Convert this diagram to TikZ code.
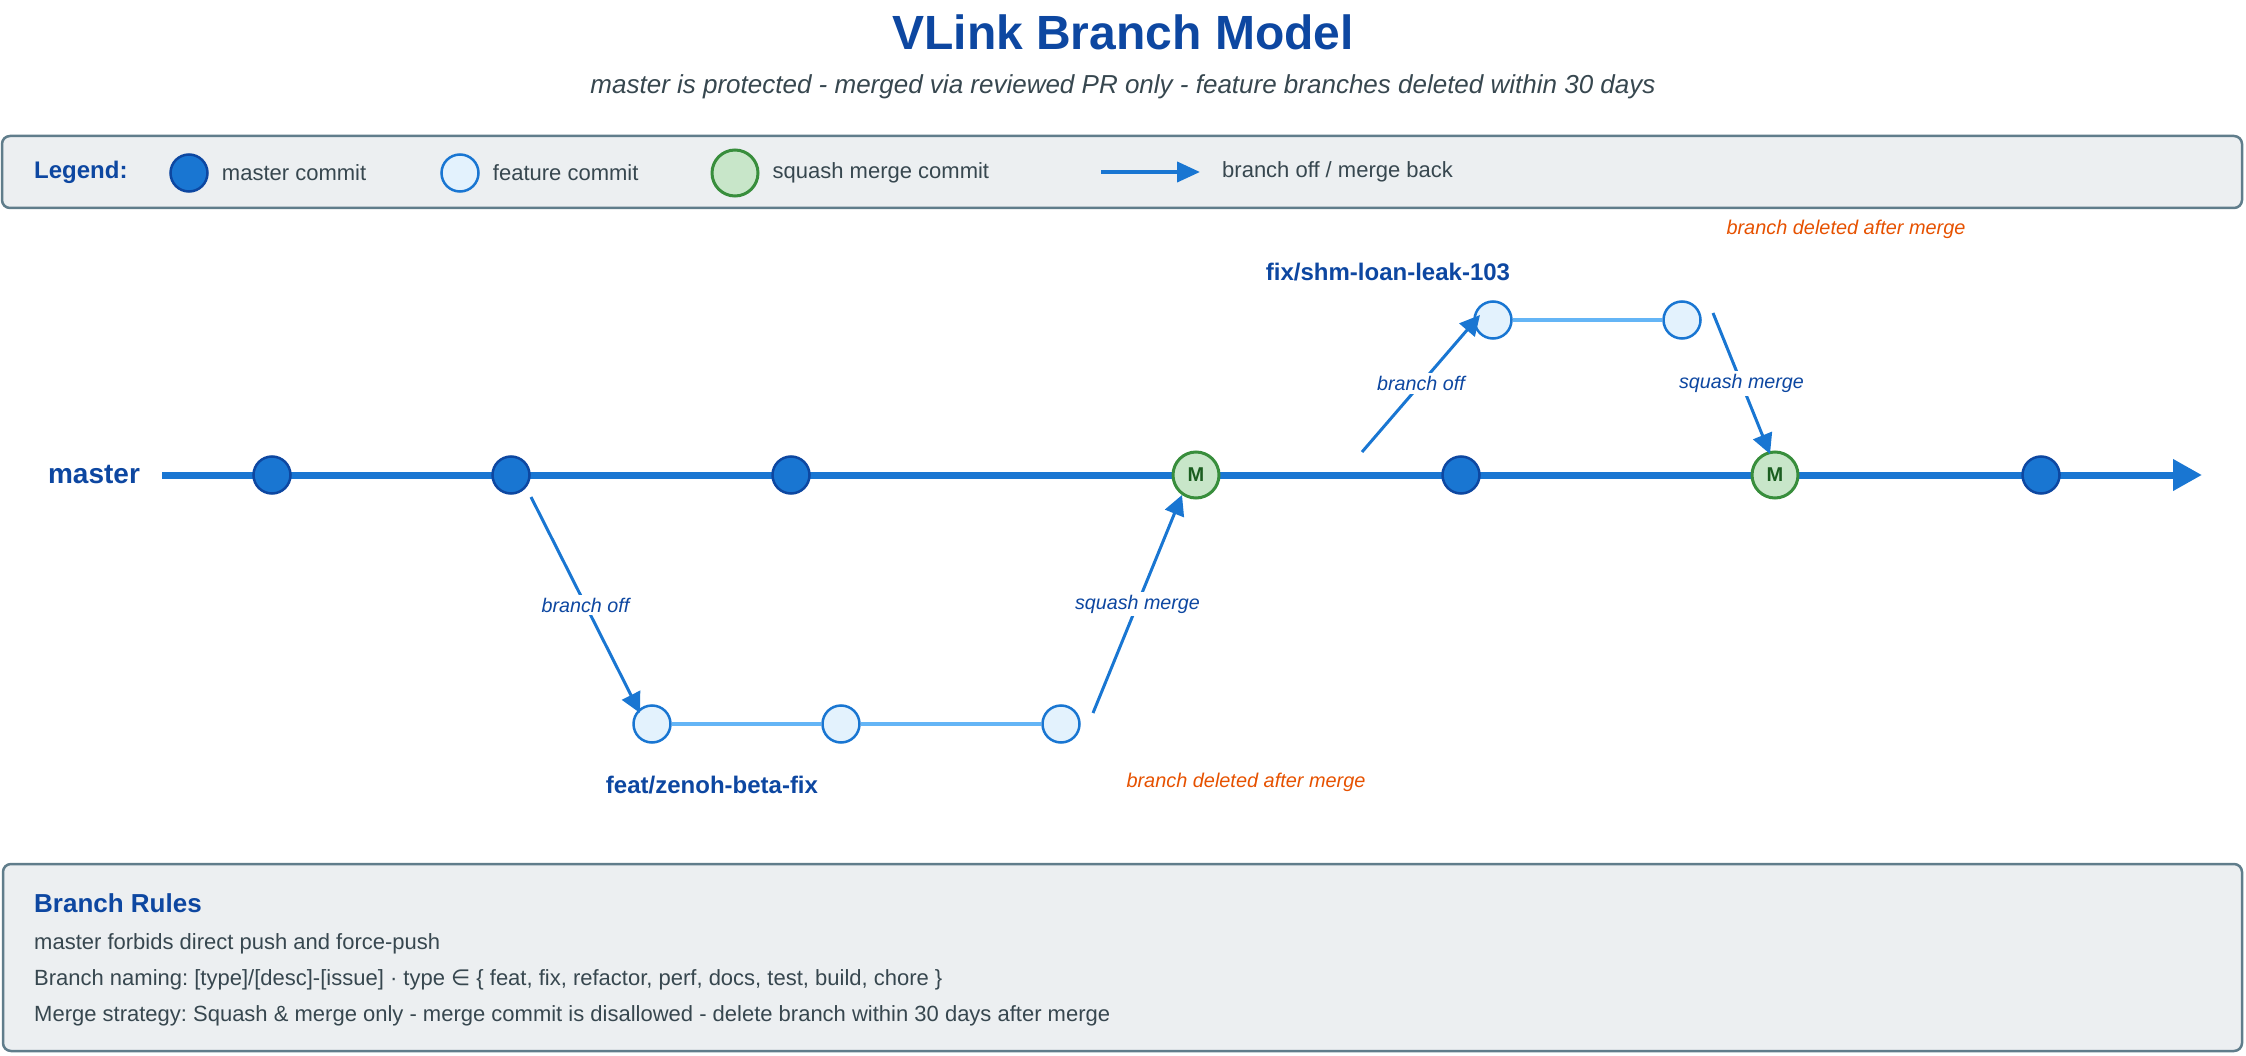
\documentclass[tikz,border=0pt]{standalone}
\usepackage{fontspec}
\setmainfont{Liberation Sans}
\newfontfamily\dejavu{DejaVu Sans}
\usepackage{tikz}
\usetikzlibrary{arrows.meta,positioning}
\frenchspacing

\definecolor{deepblue}{HTML}{0D47A1}
\definecolor{mainblue}{HTML}{1976D2}
\definecolor{paleblue}{HTML}{E3F2FD}
\definecolor{lineblue}{HTML}{64B5F6}
\definecolor{mergefill}{HTML}{C8E6C9}
\definecolor{mergedraw}{HTML}{388E3C}
\definecolor{mergetext}{HTML}{1B5E20}
\definecolor{warnorange}{HTML}{E65100}
\definecolor{panelfill}{HTML}{ECEFF1}
\definecolor{paneldraw}{HTML}{607D8B}
\definecolor{bodygray}{HTML}{37474F}

\begin{document}
\begin{tikzpicture}[
    x=1pt, y=-1pt,
    node distance=13pt,
    mcommit/.style={circle, draw=deepblue, fill=mainblue, line width=2.5pt,
                    minimum size=37pt, inner sep=0pt},
    fcommit/.style={circle, draw=mainblue, fill=paleblue, line width=2.5pt,
                    minimum size=37pt, inner sep=0pt},
    scommit/.style={circle, draw=mergedraw, fill=mergefill, line width=3pt,
                    minimum size=46pt, inner sep=0pt, text=mergetext,
                    font=\fontsize{20}{24}\selectfont\bfseries},
    panel/.style={rectangle, rounded corners=8pt, draw=paneldraw, fill=panelfill,
                  line width=2.5pt},
    legtext/.style={inner sep=0pt, text=bodygray, font=\fontsize{22}{26}\selectfont},
    ruletext/.style={inner sep=0pt, anchor=base west, text=bodygray,
                     font=\fontsize{22}{26}\selectfont},
    heading/.style={inner sep=0pt, text=deepblue, font=\fontsize{24}{28}\selectfont\bfseries},
    edgelabel/.style={fill=white, inner sep=3pt, text=deepblue,
                      font=\fontsize{19.7}{23}\selectfont\itshape},
    deleted/.style={inner sep=0pt, text=warnorange, font=\fontsize{19.9}{23}\selectfont\itshape},
    trunk/.style={line width=7pt, mainblue, -{Triangle[length=29pt,width=30pt]}},
    twig/.style={line width=4pt, lineblue},
    arrow/.style={line width=3pt, mainblue, -{Triangle[length=20pt,width=20pt]}},
  ]
    \useasboundingbox (0,0) rectangle (2246,1056);

    % title
    \node[text=deepblue, font=\fontsize{48}{56}\selectfont\bfseries] (title) at (1123,32) {VLink Branch Model};
    \node[text=bodygray, font=\fontsize{26}{30}\selectfont\itshape] (subtitle) at (1123,87)
      {master is protected - merged via reviewed PR only - feature branches deleted within 30 days};

    % legend
    \node[panel, minimum width=2240pt, minimum height=72pt] (legendbox) at (1122,172) {};
    \node[heading, anchor=west] (legtitle) at (34,172) {Legend:};
    \node[mcommit] (lgm) at (189,173) {};
    \node[legtext, right=of lgm] (lgmtext) {master commit};
    \node[fcommit] (lgf) at (460,173) {};
    \node[legtext, right=of lgf] (lgftext) {feature commit};
    \node[scommit] (lgs) at (735,173) {};
    \node[legtext, right=of lgs] (lgstext) {squash merge commit};
    \coordinate (lga) at (1101,172);
    \coordinate (lgb) at (1200,172);
    \draw[line width=4pt, mainblue, -{Triangle[length=23pt,width=20pt]}] (lga) -- (lgb);
    \node[legtext, right=22pt of lgb] (lgatext) {branch off / merge back};

    % master line
    \node[heading, font=\fontsize{28}{32}\selectfont\bfseries] (mlabel) at (94,475) {master};
    \coordinate (mtip) at (2202,475);
    \draw[trunk] ([xshift=22pt]mlabel.east) -- (mtip);
    \foreach \name/\x in {m1/272, m2/511, m3/791, m4/1461, m5/2041}
      \node[mcommit] (\name) at (\x,475) {};
    \node[scommit] (s1) at (1196,475) {M};
    \node[scommit] (s2) at (1775,475) {M};

    % feature branch
    \foreach \name/\x in {f1/652, f2/841, f3/1061}
      \node[fcommit] (\name) at (\x,724) {};
    \draw[twig] (f1) -- (f2) -- (f3);
    \node[heading] (ftlabel) at (712,785) {feat/zenoh-beta-fix};
    \node[deleted] (ftgone) at (1246,782) {branch deleted after merge};

    % fix branch
    \foreach \name/\x in {x1/1493, x2/1682}
      \node[fcommit] (\name) at (\x,320) {};
    \draw[twig] (x1) -- (x2);
    \node[heading] (fxlabel) at (1388,272) {fix/shm-loan-leak-103};
    \node[deleted] (fxgone) at (1846,229) {branch deleted after merge};
    \coordinate (fxbase) at (1362,452);

    \draw[arrow] ([shift={(20,22)}]m2.center) -- node[edgelabel] {branch off} ([shift={(-12,-11)}]f1.center);
    \draw[arrow] ([shift={(32,-11)}]f3.center) -- node[edgelabel] {squash merge} ([shift={(-14,20)}]s1.center);
    \draw[arrow] (fxbase) -- node[edgelabel] {branch off} ([shift={(-13,-5)}]x1.center);
    \draw[arrow] ([shift={(31,-7)}]x2.center) -- node[edgelabel] {squash merge} ([shift={(-5,-21)}]s2.center);

    % rules
    \node[panel, minimum width=2239pt, minimum height=187pt] (rulesbox) at (1122.5,957.5) {};
    \node[heading, anchor=base west, font=\fontsize{26}{30}\selectfont\bfseries] (rulestitle) at (34,912) {Branch Rules};
    \node[ruletext] (rule1) at (34,949) {master forbids direct push and force-push};
    \node[ruletext] (rule2) at (34,985)
      {Branch naming: [type]/[desc]-[issue] · type {\dejavu ∈} \{ feat, fix, refactor, perf, docs, test, build, chore \}};
    \node[ruletext] (rule3) at (34,1021)
      {Merge strategy: Squash \& merge only - merge commit is disallowed - delete branch within 30 days after merge};
  \end{tikzpicture}
\end{document}
